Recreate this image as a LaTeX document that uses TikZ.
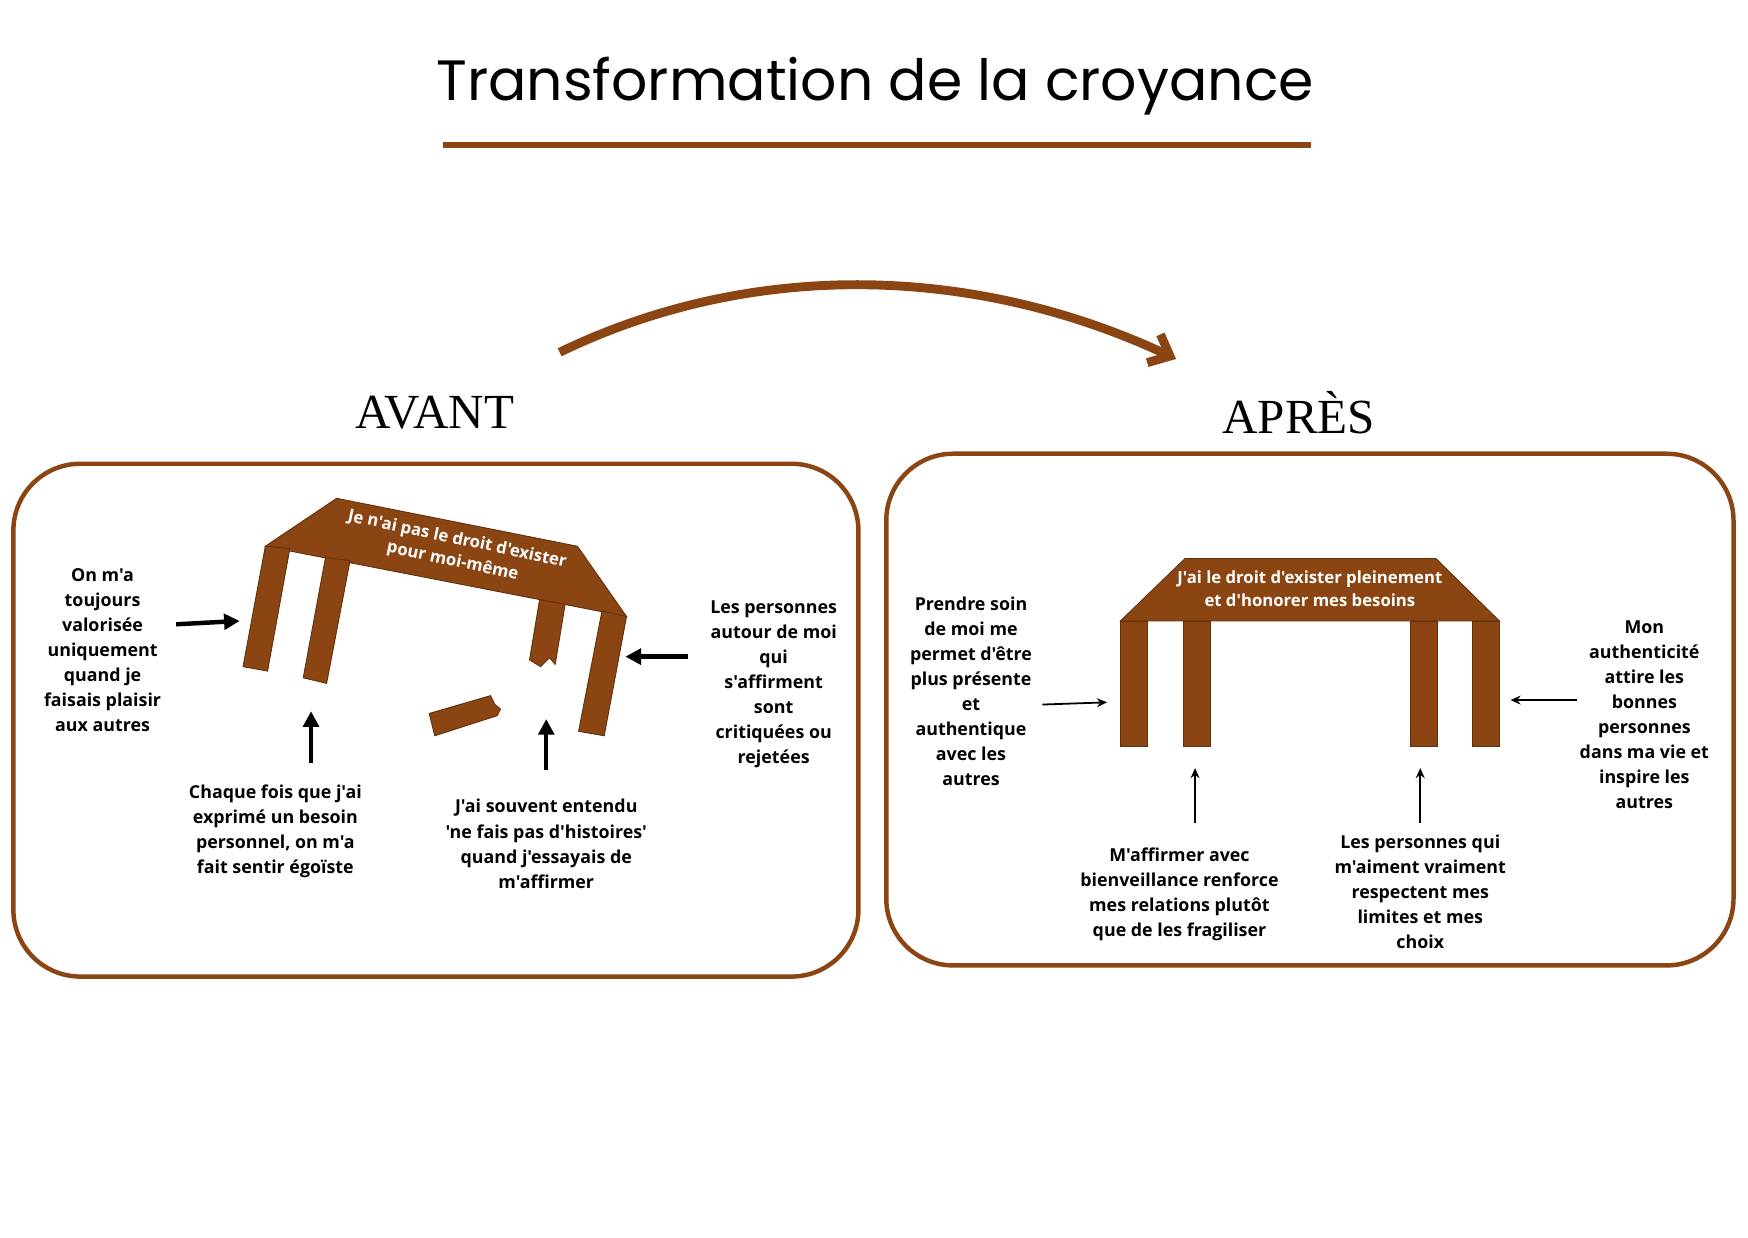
\documentclass[tikz,border=0pt]{standalone}
\usepackage{fontspec}
\setmainfont{Open Sans}[Ligatures=TeXOff]
\newfontfamily\titlefont{Poppins}
\newfontfamily\headfont{Liberation Serif}
\usetikzlibrary{arrows.meta}
\definecolor{brn}{HTML}{8B4513}
\tikzset{
 lbl/.style={align=center,font=\fontsize{16}{22.5}\selectfont\bfseries},
 wood/.style={fill=brn,draw=brn!70!black,line width=0.8pt},
 thick arr/.style={-{Stealth[length=14pt,width=14pt,inset=0pt]},line width=4pt,black},
 thin arr/.style={-{Stealth[length=9pt,width=8pt]},line width=1.6pt,black},
 frame/.style={draw=brn,line width=4pt,rounded corners=60pt}
}
\begin{document}
\begin{tikzpicture}[x=1pt,y=-1pt]
\useasboundingbox (0,0) rectangle (1568,1110);
\node (title) at (785,77) {\titlefont\fontsize{51}{56}\selectfont Transformation de la croyance};
\draw[brn,line width=5pt] (397,130) -- (1176,130);
\coordinate (as) at (502,316); \coordinate (ae) at (1055,322);
\draw[brn,line width=8pt,-{Straight Barb[length=16pt,width=28pt]}] (as) .. controls (680,230) and (880,240) .. (ae);
\node (avant) at (390,370) {\headfont\fontsize{44}{48}\selectfont AVANT};
\node (apres) at (1165,370) {\headfont\fontsize{44}{48}\selectfont APRÈS};
\draw[frame] (12,416) rectangle (770,876);
\draw[frame] (795,407) rectangle (1555,866);
% broken table
\draw[wood] (238,490) -- (302,447) -- (518,490) -- (562,553) -- cycle;
\draw[wood] (238,490) -- (260,492) -- (240,602) -- (218,598) -- cycle;
\draw[wood] (292,500) -- (314,503) -- (293,613) -- (272,608) -- cycle;
\draw[wood] (484,538) -- (507,542) -- (498,596) -- (493,590) -- (485,598) -- (475,592) -- cycle;
\draw[wood] (540,548) -- (562,553) -- (542,660) -- (519,656) -- cycle;
\draw[wood] (385,640) -- (440,624) -- (444,632) -- (449,636) -- (446,642) -- (390,660) -- cycle;
\node[rotate=-12,text=white,align=center,font=\fontsize{15}{20}\selectfont\bfseries] (b1) at (408,494) {Je n'ai pas le droit d'exister\\pour moi-même};
\node[lbl] (l1) at (92,583) {On m'a\\toujours\\valorisée\\uniquement\\quand je\\faisais plaisir\\aux autres};
\node[lbl] (l2) at (247,746) {Chaque fois que j'ai\\exprimé un besoin\\personnel, on m'a\\fait sentir égoïste};
\node[lbl] (l3) at (490,757) {J'ai souvent entendu\\'ne fais pas d'histoires'\\quand j'essayais de\\m'affirmer};
\node[lbl] (l4) at (694,614) {Les personnes\\autour de moi\\qui\\s'affirment\\sont\\critiquées ou\\rejetées};
\coordinate (t1) at (215,557); \coordinate (t2) at (279,638); \coordinate (t3) at (490,645); \coordinate (t4) at (561,589);
\draw[thick arr] (158,560) -- (t1);
\draw[thick arr] (279,684) -- (t2);
\draw[thick arr] (490,691) -- (t3);
\draw[thick arr] (617,589) -- (t4);
% solid table
\draw[wood] (1005,557) -- (1063,501) -- (1288,501) -- (1345,557) -- cycle;
\foreach \x in {1005,1062,1265,1321} \draw[wood] (\x,557) rectangle (\x+24,670);
\node[text=white,align=center,font=\fontsize{15}{20}\selectfont\bfseries] (b2) at (1175,528) {J'ai le droit d'exister pleinement\\et d'honorer mes besoins};
\node[lbl] (r1) at (871,620) {Prendre soin\\de moi me\\permet d'être\\plus présente\\et\\authentique\\avec les\\autres};
\node[lbl] (r2) at (1058,802) {M'affirmer avec\\bienveillance renforce\\mes relations plutôt\\que de les fragiliser};
\node[lbl] (r3) at (1274,800) {Les personnes qui\\m'aiment vraiment\\respectent mes\\limites et mes\\choix};
\node[lbl] (r4) at (1475,641) {Mon\\authenticité\\attire les\\bonnes\\personnes\\dans ma vie et\\inspire les\\autres};
\coordinate (u1) at (993,630); \coordinate (u2) at (1072,689); \coordinate (u3) at (1274,689); \coordinate (u4) at (1355,628);
\draw[thin arr] (935,632) -- (u1);
\draw[thin arr] (1072,738) -- (u2);
\draw[thin arr] (1274,738) -- (u3);
\draw[thin arr] (1415,628) -- (u4);
\end{tikzpicture}
\end{document}
